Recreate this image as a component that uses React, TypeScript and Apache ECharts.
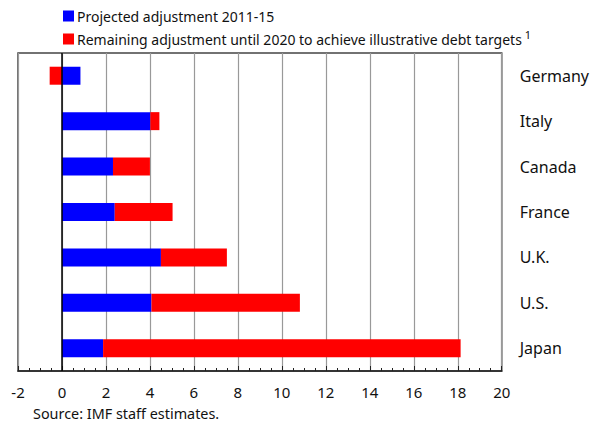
import React, { useEffect, useRef } from "react";
import * as echarts from "echarts";

const categories = ["Japan", "U.S.", "U.K.", "France", "Canada", "Italy", "Germany"];
const projected = [1.87, 4.07, 4.5, 2.4, 2.32, 4.02, 0.84];
const remaining = [16.26, 6.75, 3.0, 2.63, 1.68, 0.41, -0.56];
const xTicks = [-2, 0, 2, 4, 6, 8, 10, 12, 14, 16, 18, 20];
const legendNames = ["Projected adjustment 2011-15", "Remaining adjustment until 2020 to achieve illustrative debt targets"];
const sourceText = "Source: IMF staff estimates.";

const FONT = "'Noto Sans', 'Open Sans', sans-serif";

export default function App() {
  const ref = useRef<HTMLDivElement>(null);
  useEffect(() => {
    document.body.style.margin = "0";
    if (!ref.current) return;
    const chart = echarts.init(ref.current, undefined, { renderer: "svg" });
    chart.setOption({
      animation: false,
      textStyle: { fontFamily: FONT },
      grid: {
        left: 18,
        right: 88,
        top: 53,
        bottom: 54,
        show: true,
        borderColor: "#444",
        borderWidth: 1.5,
      },
      legend: {
        orient: "vertical",
        left: 63,
        top: 9,
        padding: 0,
        itemWidth: 11,
        itemHeight: 11,
        itemGap: 6,
        icon: "rect",
        data: legendNames,
        formatter: (name: string) =>
          name === legendNames[1] ? `{t|${name}}{s|1}` : `{t|${name}}`,
        textStyle: {
          padding: [0, 0, 0, -2],
          rich: {
            t: { fontSize: 14, color: "#111", fontFamily: FONT },
            s: { fontSize: 11, color: "#111", verticalAlign: "top", padding: [0, 0, 9, 3], fontFamily: FONT },
          },
        },
      },
      xAxis: {
        type: "value",
        min: -2,
        max: 20,
        interval: 2,
        axisLine: { show: true, lineStyle: { color: "#222", width: 1.5 } },
        axisTick: { show: true, inside: true, length: 5, lineStyle: { color: "#222" } },
        minorTick: { show: true, splitNumber: 4, length: 3, lineStyle: { color: "#222" } },
        splitLine: { show: true, lineStyle: { color: "#999", width: 1.2 } },
        axisLabel: {
          fontSize: 15,
          color: "#111",
          margin: 13,
          formatter: (v: number) => (xTicks.includes(v) ? String(v) : ""),
        },
      },
      yAxis: {
        type: "category",
        data: categories,
        position: "right",
        axisLine: { show: false },
        axisTick: { show: false },
        axisLabel: { fontSize: 16, color: "#111", margin: 18 },
      },
      series: [
        {
          name: legendNames[0],
          type: "bar",
          stack: "s",
          data: projected,
          barWidth: 18,
          itemStyle: { color: "#0000FF" },
          markLine: {
            silent: true,
            symbol: "none",
            label: { show: false },
            lineStyle: { color: "#000", width: 1.5, type: "solid" },
            data: [{ xAxis: 0 }],
          },
        },
        {
          name: legendNames[1],
          type: "bar",
          stack: "s",
          data: remaining,
          barWidth: 18,
          itemStyle: { color: "#FF0000" },
        },
      ],
      graphic: [
        {
          type: "text",
          left: 33,
          top: 406,
          style: { text: sourceText, fontSize: 14.4, fill: "#111", fontFamily: FONT },
        },
      ],
    });
    return () => chart.dispose();
  }, []);
  return <div ref={ref} style={{ width: 592, height: 425 }} />;
}
